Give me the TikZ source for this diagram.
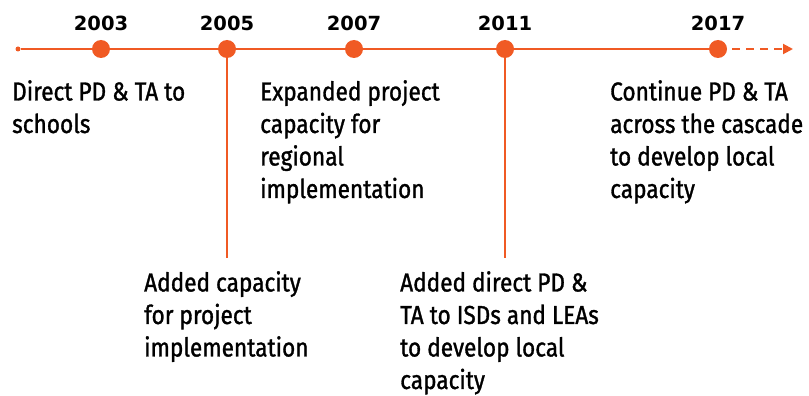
\documentclass[tikz,border=0pt]{standalone}
\usepackage{fontspec}
\setmainfont{Fira Sans}[FakeStretch=0.87, FakeBold=1.2]
\newfontfamily\yearfont{DejaVu Sans}
\usetikzlibrary{arrows.meta}
\definecolor{tlorange}{HTML}{F05A24}
\begin{document}
\begin{tikzpicture}[x=1pt,y=-1pt,
  dot/.style={circle,fill=tlorange,minimum size=18pt,inner sep=0},
  year/.style={font=\yearfont\bfseries\fontsize{19.5}{19.5}\selectfont, anchor=base, inner sep=0},
  desc/.style={font=\fontsize{26}{32.5}\selectfont, align=left, anchor=north west, inner sep=0},
  tl/.style={draw=tlorange, line width=2pt}]
\useasboundingbox (0,0) rectangle (809,396);
\node[circle,fill=tlorange,minimum size=5pt,inner sep=0] (start) at (18,49) {};
\coordinate (c2003) at (101,49);
\coordinate (c2005) at (227,49);
\coordinate (c2007) at (354,49);
\coordinate (c2011) at (505,49);
\coordinate (c2017) at (718,49);
\coordinate (end) at (793,49);
\coordinate (v2005) at (227,258);
\coordinate (v2011) at (505,258);
\draw[tl] (start) -- (c2017);
\draw[tl, dash pattern=on 8pt off 6pt, -{Triangle[length=10pt,width=10pt]}] (c2017) -- (end);
\draw[tl] (c2005) -- (v2005);
\draw[tl] (c2011) -- (v2011);
\node[dot] (d2003) at (c2003) {};
\node[dot] (d2005) at (c2005) {};
\node[dot] (d2007) at (c2007) {};
\node[dot] (d2011) at (c2011) {};
\node[dot] (d2017) at (c2017) {};
\node[year] (y2003) at (101,31) {2003};
\node[year] (y2005) at (227,31) {2005};
\node[year] (y2007) at (354,31) {2007};
\node[year] (y2011) at (505,31) {2011};
\node[year] (y2017) at (718,31) {2017};
\node[desc] (t2003) at (12,80) {Direct PD \& TA to\\schools};
\node[desc] (t2007) at (260,80) {Expanded project\\capacity for\\regional\\implementation};
\node[desc] (t2017) at (610,80) {Continue PD \& TA\\across the cascade\\to develop local\\capacity};
\node[desc] (t2005) at (144,271) {Added capacity\\for project\\implementation};
\node[desc] (t2011) at (400,271) {Added direct PD \&\\TA to ISDs and LEAs\\to develop local\\capacity};
\end{tikzpicture}
\end{document}
